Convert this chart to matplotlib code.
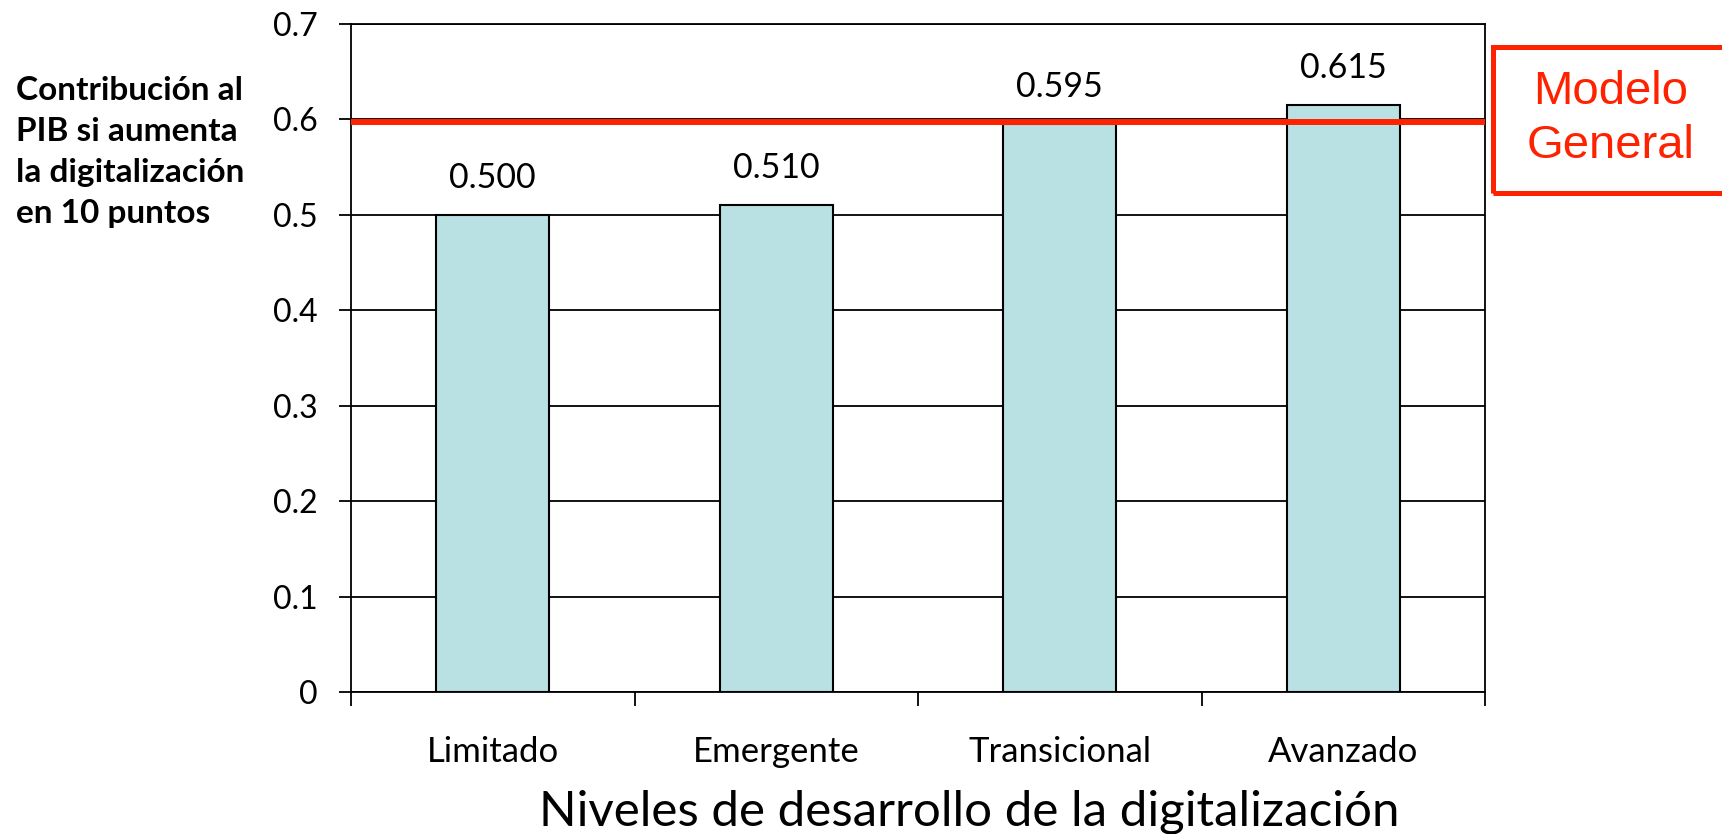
import matplotlib
matplotlib.use('Agg')
import matplotlib.pyplot as plt
from matplotlib.patches import Rectangle
from matplotlib.ticker import FixedLocator, NullFormatter

niveles = ['Limitado', 'Emergente', 'Transicional', 'Avanzado']
contribucion = [0.500, 0.510, 0.595, 0.615]
modelo_general = 0.597
y_ticks = [0, 0.1, 0.2, 0.3, 0.4, 0.5, 0.6, 0.7]

rojo = '#FF2200'
barra = '#B9E0E3'

fig = plt.figure(figsize=(17.22, 8.34), dpi=100)
ax = fig.add_axes([351/1722, 1-692/834, (1485-351)/1722, (692-24)/834])

x = list(range(len(niveles)))
ax.bar(x, contribucion, width=0.4, color=barra, edgecolor='black', linewidth=1.5, zorder=3)
for xi, v in zip(x, contribucion):
    ax.text(xi, v + 0.022, '%.3f' % v, ha='center', va='bottom', fontsize=24.5, family='Lato')

ax.axhline(modelo_general, color=rojo, linewidth=4.3, zorder=4)

ax.set_xlim(-0.5, 3.5)
ax.set_ylim(0, 0.7)
ax.set_yticks(y_ticks)
ax.set_yticklabels(['0' if t == 0 else '%.1f' % t for t in y_ticks], fontsize=23, family='Lato')
ax.yaxis.grid(True, color='black', linewidth=1.3, zorder=0)
ax.tick_params(axis='y', direction='out', length=9, width=1.3, pad=15)

ax.xaxis.set_major_locator(FixedLocator([-0.5, 0.5, 1.5, 2.5, 3.5]))
ax.xaxis.set_major_formatter(NullFormatter())
ax.xaxis.set_minor_locator(FixedLocator(x))
ax.set_xticklabels(niveles, minor=True, fontsize=25, family='Lato')
ax.tick_params(axis='x', which='major', direction='out', length=10, width=1.3)
ax.tick_params(axis='x', which='minor', length=0, pad=32)
ax.set_xlabel('Niveles de desarrollo de la digitalización', fontsize=35.5, family='Lato')
ax.xaxis.label.set_va('center')
ax.xaxis.set_label_coords(0.545, -0.18)

for s in ax.spines.values():
    s.set_linewidth(1.3)

fig.text(16/1722, 1-152/834, 'Contribución al\nPIB si aumenta\nla digitalización\nen 10 puntos',
         ha='left', va='center', fontsize=24, fontweight='bold', family='Lato', linespacing=1.5)

fig.patches.append(Rectangle((1493/1722, 1-193/834), 260/1722, 146/834, transform=fig.transFigure,
                             facecolor='none', edgecolor=rojo, linewidth=3.6, clip_on=False))
fig.text(1611/1722, 1-119/834, 'Modelo\nGeneral', ha='center', va='center', color=rojo,
         fontsize=34, family='Liberation Sans', linespacing=1.27)

fig.savefig('out.png', dpi=100)
